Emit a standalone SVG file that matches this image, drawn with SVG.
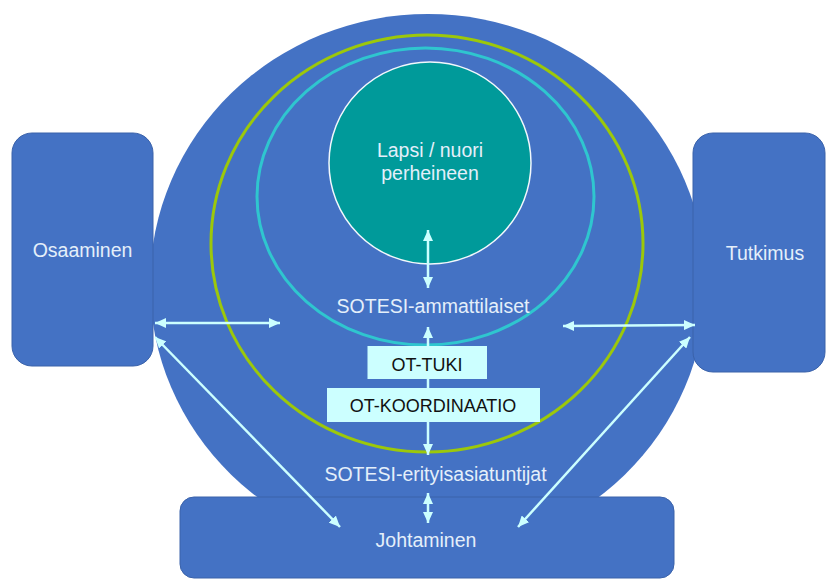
<svg xmlns="http://www.w3.org/2000/svg" width="827" height="579" viewBox="0 0 827 579">
  <defs>
    <style>
      .blue { fill: #4472C4; }
      .box { fill: #4472C4; stroke: #3A62AA; stroke-width: 1; }
      .lbl { font-family: "Liberation Sans", Arial, sans-serif; font-size: 19.5px; fill: #E4EFFA; text-anchor: middle; }
      .ot { fill: #CCFFFF; }
      .otl { font-family: "Liberation Sans", Arial, sans-serif; font-size: 18px; fill: #111111; text-anchor: middle; }
      .conn { stroke: #CCFFFF; stroke-width: 2.5; fill: none; marker-end: url(#ah); marker-start: url(#ah); }
    </style>
    <marker id="ah" markerUnits="userSpaceOnUse" markerWidth="11" markerHeight="10" refX="11" refY="5" orient="auto-start-reverse">
      <path d="M0,0 L11,5 L0,10 z" fill="#CCFFFF"/>
    </marker>
  </defs>

  <rect width="827" height="579" fill="#FFFFFF"/>

  <g id="outer-circle">
    <ellipse class="blue" cx="428" cy="284" rx="278" ry="270"/>
  </g>

  <g id="osaaminen">
    <rect class="box" x="12" y="133" width="141" height="233" rx="20" ry="20"/>
    <text class="lbl" x="82.5" y="257">Osaaminen</text>
  </g>

  <g id="tutkimus">
    <rect class="box" x="693" y="133" width="132" height="239" rx="20" ry="20"/>
    <text class="lbl" x="765" y="260">Tutkimus</text>
  </g>

  <g id="johtaminen">
    <rect class="box" x="180" y="497" width="494" height="81" rx="14" ry="14"/>
    <text class="lbl" x="426" y="547">Johtaminen</text>
  </g>

  <g id="sotesi-erityisasiatuntijat">
    <ellipse cx="427" cy="243.5" rx="216" ry="208.5" fill="none" stroke="#9CC80A" stroke-width="3"/>
    <text class="lbl" x="435.5" y="481">SOTESI-erityisasiatuntijat</text>
  </g>

  <g id="sotesi-ammattilaiset">
    <ellipse cx="425.5" cy="196.5" rx="168.5" ry="148.5" fill="none" stroke="#2FC6CF" stroke-width="3"/>
    <text class="lbl" x="433" y="313">SOTESI-ammattilaiset</text>
  </g>

  <g id="lapsi-nuori">
    <circle cx="430" cy="163" r="101" fill="#009A9A" stroke="#F2F8FC" stroke-width="1.5"/>
    <text class="lbl" x="430" y="157">Lapsi / nuori</text>
    <text class="lbl" x="430" y="180">perheineen</text>
  </g>

  <g id="connectors">
    <line class="conn" x1="428" y1="230" x2="428" y2="288"/>
    <line class="conn" x1="428" y1="327" x2="428" y2="455"/>
    <line class="conn" x1="428" y1="493" x2="428" y2="523"/>
    <line class="conn" x1="155" y1="323" x2="280" y2="323"/>
    <line class="conn" x1="563" y1="326" x2="695" y2="325"/>
    <line class="conn" x1="155" y1="337" x2="340" y2="527"/>
    <line class="conn" x1="690" y1="337" x2="518" y2="527"/>
  </g>

  <g id="ot-tuki">
    <rect class="ot" x="367.5" y="346" width="119.5" height="33"/>
    <text class="otl" x="427" y="371">OT-TUKI</text>
  </g>

  <g id="ot-koordinaatio">
    <rect class="ot" x="327" y="388" width="213" height="34"/>
    <text class="otl" x="433" y="412">OT-KOORDINAATIO</text>
  </g>
</svg>
